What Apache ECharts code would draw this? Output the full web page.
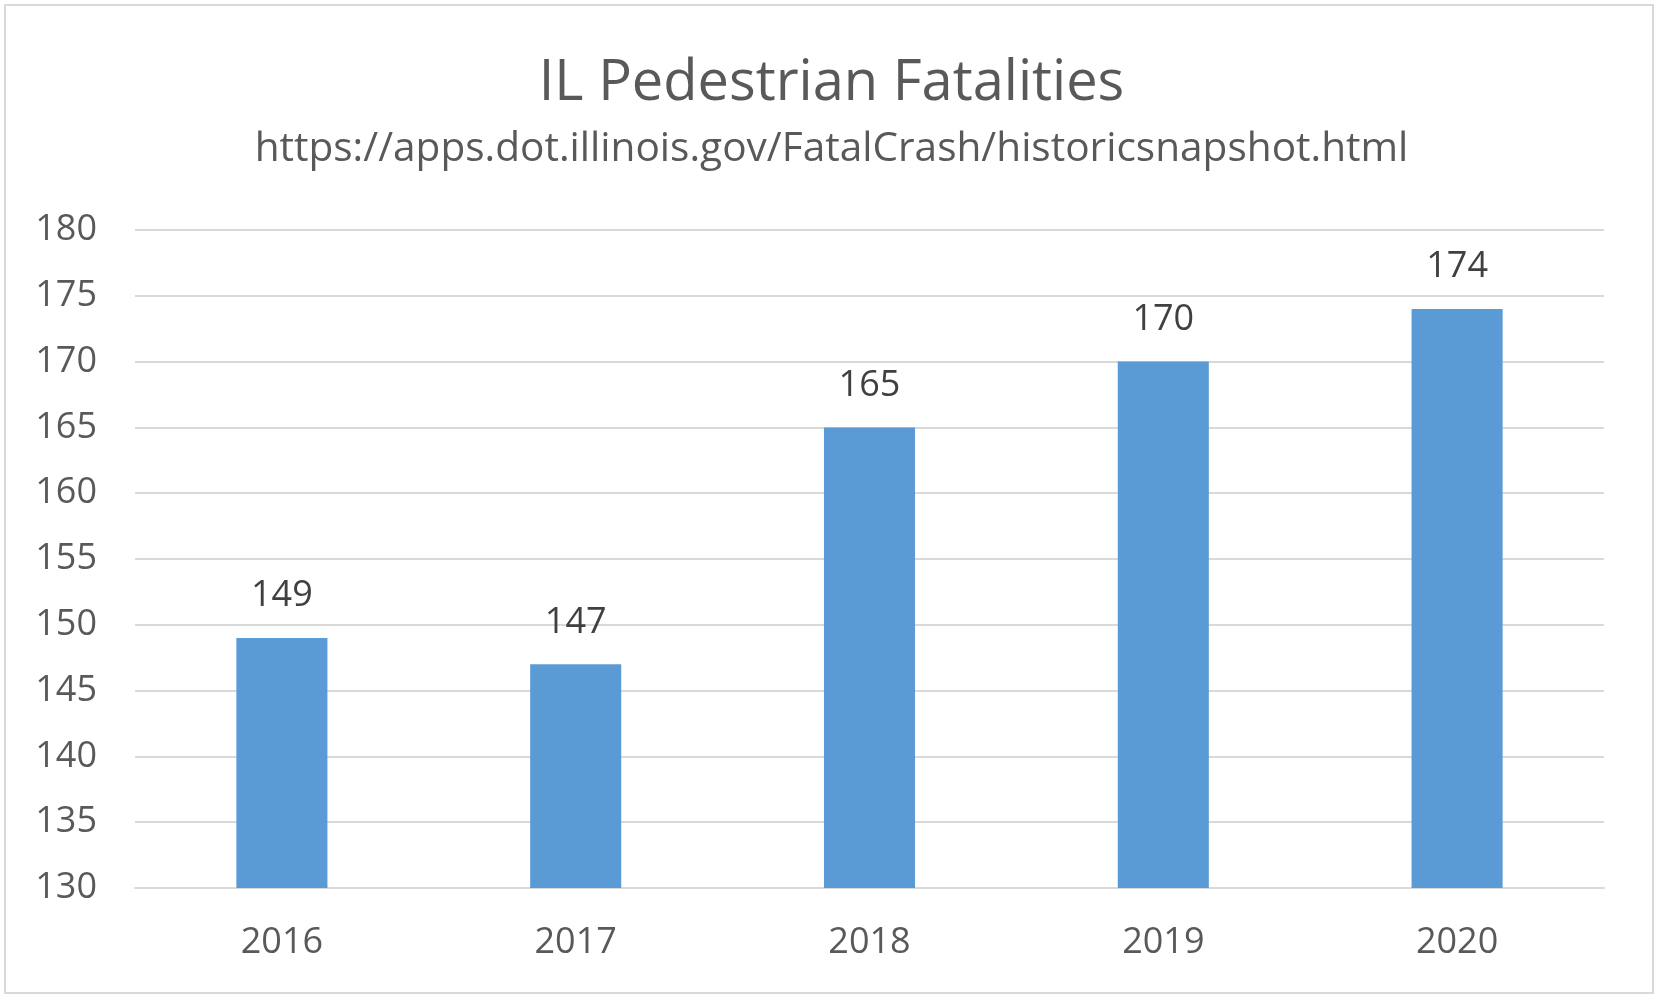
<!DOCTYPE html>
<html>
<head>
<meta charset="utf-8">
<script src="https://cdn.jsdelivr.net/npm/echarts@6/dist/echarts.min.js"></script>
<style>
html,body{margin:0;padding:0;background:#fff;}
#chart{width:1663px;height:1003px;}
</style>
</head>
<body>
<div id="chart"></div>
<script>
const titleText = 'IL Pedestrian Fatalities';
const subtitleText = 'https://apps.dot.illinois.gov/FatalCrash/historicsnapshot.html';
const years = ['2016', '2017', '2018', '2019', '2020'];
const fatalities = [149, 147, 165, 170, 174];
const yMin = 130, yMax = 180, yStep = 5;

const FONT = '"Open Sans", "Noto Sans", sans-serif';
const chart = echarts.init(document.getElementById('chart'), null, {renderer: 'canvas'});
chart.setOption({
  backgroundColor: '#ffffff',
  animation: false,
  graphic: [{
    type: 'rect',
    shape: {x: 5, y: 5, width: 1648, height: 988},
    style: {fill: 'none', stroke: '#d9d9d9', lineWidth: 2},
    silent: true
  }],
  title: [{
    text: titleText,
    left: 'center',
    top: 51,
    textStyle: {fontFamily: FONT, fontSize: 56, fontWeight: 'normal', color: '#595959'}
  }, {
    text: subtitleText,
    left: 'center',
    top: 124,
    textStyle: {fontFamily: FONT, fontSize: 40.6, fontWeight: 'normal', color: '#595959'}
  }],
  grid: {left: 135, right: 59, top: 230, bottom: 115, containLabel: false},
  xAxis: {
    type: 'category',
    data: years,
    axisLine: {show: true, lineStyle: {color: '#d9d9d9', width: 2}},
    axisTick: {show: false},
    axisLabel: {margin: 37, fontFamily: FONT, fontSize: 36, color: '#595959'}
  },
  yAxis: {
    type: 'value',
    min: yMin, max: yMax, interval: yStep,
    axisLine: {show: false},
    axisTick: {show: false},
    splitLine: {lineStyle: {color: '#d9d9d9', width: 2}},
    axisLabel: {margin: 38, fontFamily: FONT, fontSize: 36, color: '#595959'}
  },
  series: [{
    type: 'bar',
    data: fatalities,
    barWidth: '31%',
    itemStyle: {color: '#5b9bd5'},
    label: {show: true, position: 'top', distance: 24, fontFamily: FONT, fontSize: 36, color: '#404040'}
  }]
});
</script>
</body>
</html>
